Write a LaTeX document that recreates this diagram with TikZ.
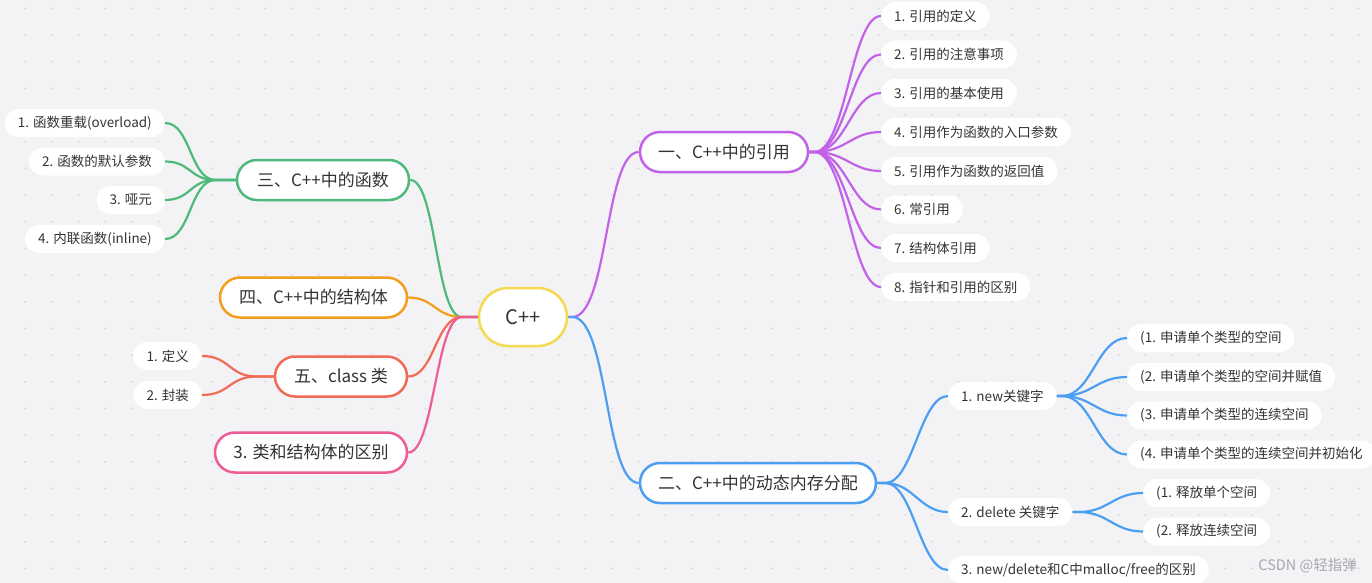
\documentclass[tikz,border=0pt]{standalone}
\usepackage{fontspec}
\setmainfont{Noto Sans CJK SC}
\definecolor{bg}{HTML}{F3F3F5}
\definecolor{dotc}{HTML}{D4D4D8}
\definecolor{txt}{HTML}{333333}
\definecolor{cyellow}{HTML}{F5D94E}
\definecolor{cpurple}{HTML}{C262E8}
\definecolor{cblue}{HTML}{4C9EF2}
\definecolor{cgreen}{HTML}{4DB97A}
\definecolor{corange}{HTML}{F49E1E}
\definecolor{ccoral}{HTML}{F26B57}
\definecolor{cpink}{HTML}{EF5B95}
\definecolor{wmc}{HTML}{A8A8AC}
\begin{document}
\begin{tikzpicture}[x=1pt,y=-1pt,
  leaf/.style={fill=white, rounded corners=14pt, minimum height=28pt, inner xsep=13pt, inner ysep=0pt, font=\fontsize{13.5}{15}\selectfont, text=txt},
  mainbox/.style={fill=white, line width=2.5pt, rounded corners=20pt, minimum height=40pt, inner xsep=0pt, font=\fontsize{17}{20}\selectfont, text=txt},
  link/.style={line width=2.2pt},
]
\fill[bg] (0,0) rectangle (1372,583);
\useasboundingbox (0,0) rectangle (1372,583);
\foreach \i in {1,...,52}{
  \foreach \j in {0,...,21}{
    \fill[dotc] (\i*26.67-1.5, \j*26.67+8.3) circle (1);
  }
}
% root and main branches
\node[mainbox, draw=cyellow, minimum width=88pt, minimum height=58pt, rounded corners=29pt, font=\fontsize{20}{24}\selectfont] (root) at (523,317) {C++};
\node[mainbox, draw=cpurple, minimum width=168pt] (b1) at (724,152) {一、C++中的引用};
\node[mainbox, draw=cblue, minimum width=236pt] (b2) at (758,483) {二、C++中的动态内存分配};
\node[mainbox, draw=cgreen, minimum width=172pt] (b3) at (323,180) {三、C++中的函数};
\node[mainbox, draw=corange, minimum width=187pt] (b4) at (313.5,297.5) {四、C++中的结构体};
\node[mainbox, draw=ccoral, minimum width=132pt] (b5) at (341,376.5) {五、class 类};
\node[mainbox, draw=cpink, minimum width=192pt] (b6) at (311,452.5) {3. 类和结构体的区别};
% purple leaves
\node[leaf, anchor=west] (p1) at (881,16) {1. 引用的定义};
\node[leaf, anchor=west] (p2) at (881,54.5) {2. 引用的注意事项};
\node[leaf, anchor=west] (p3) at (881,93) {3. 引用的基本使用};
\node[leaf, anchor=west] (p4) at (881,132) {4. 引用作为函数的入口参数};
\node[leaf, anchor=west] (p5) at (881,171) {5. 引用作为函数的返回值};
\node[leaf, anchor=west] (p6) at (881,209.5) {6. 常引用};
\node[leaf, anchor=west] (p7) at (881,248) {7. 结构体引用};
\node[leaf, anchor=west] (p8) at (881,287) {8. 指针和引用的区别};
% blue leaves
\node[leaf, anchor=west] (n1) at (948,396) {1. new关键字};
\node[leaf, anchor=west] (n2) at (948,512) {2. delete 关键字};
\node[leaf, anchor=west] (n3) at (948,570) {3. new/delete和C中malloc/free的区别};
\node[leaf, anchor=west] (n11) at (1127,338) {(1. 申请单个类型的空间};
\node[leaf, anchor=west] (n12) at (1127,377) {(2. 申请单个类型的空间并赋值};
\node[leaf, anchor=west] (n13) at (1127,415.5) {(3. 申请单个类型的连续空间};
\node[leaf, anchor=west] (n14) at (1127,454.5) {(4. 申请单个类型的连续空间并初始化};
\node[leaf, anchor=west] (n21) at (1143,493) {(1. 释放单个空间};
\node[leaf, anchor=west] (n22) at (1143,531.5) {(2. 释放连续空间};
% green leaves
\node[leaf, anchor=east] (g1) at (165,123) {1. 函数重载(overload)};
\node[leaf, anchor=east] (g2) at (165,161.5) {2. 函数的默认参数};
\node[leaf, anchor=east] (g3) at (165,200) {3. 哑元};
\node[leaf, anchor=east] (g4) at (165,239) {4. 内联函数(inline)};
% coral leaves
\node[leaf, anchor=east] (k1) at (202,356) {1. 定义};
\node[leaf, anchor=east] (k2) at (202,395) {2. 封装};
% watermark
\node[text=wmc, font=\fontsize{14.5}{16}\selectfont, anchor=east, inner sep=0pt] (wm) at (1357,566) {CSDN @轻指弹};
% connectors: root
\draw[link, cpurple] (root.east) -- ++(4,0) .. controls +(36,0) and +(-34,0) .. (b1.west);
\draw[link, cblue] (root.east) -- ++(4,0) .. controls +(36,0) and +(-34,0) .. (b2.west);
\foreach \b/\c in {b3/cgreen, b4/corange, b5/ccoral, b6/cpink}{
  \draw[link, \c] (root.west) -- ++(-16,0) .. controls +(-26,0) and +(26,0) .. (\b.east);
}
% purple fan
\foreach \p in {p1,p2,p3,p4,p5,p6,p7,p8}{
  \draw[link, cpurple] (b1.east) -- ++(5,0) .. controls +(32,0) and +(-30,0) .. (\p.west);
}
% blue fans
\foreach \p in {n1,n2,n3}{
  \draw[link, cblue] (b2.east) -- ++(8,0) .. controls +(28,0) and +(-28,0) .. (\p.west);
}
\foreach \p in {n11,n12,n13,n14}{
  \draw[link, cblue] (n1.east) -- ++(5,0) .. controls +(30,0) and +(-30,0) .. (\p.west);
}
\foreach \p in {n21,n22}{
  \draw[link, cblue] (n2.east) -- ++(6,0) .. controls +(30,0) and +(-30,0) .. (\p.west);
}
% green fan
\foreach \p in {g1,g2,g3,g4}{
  \draw[link, cgreen] (b3.west) -- ++(-20,0) .. controls +(-26,0) and +(26,0) .. (\p.east);
}
% coral fan
\foreach \p in {k1,k2}{
  \draw[link, ccoral] (b5.west) -- ++(-17,0) .. controls +(-28,0) and +(28,0) .. (\p.east);
}
\end{tikzpicture}
\end{document}
